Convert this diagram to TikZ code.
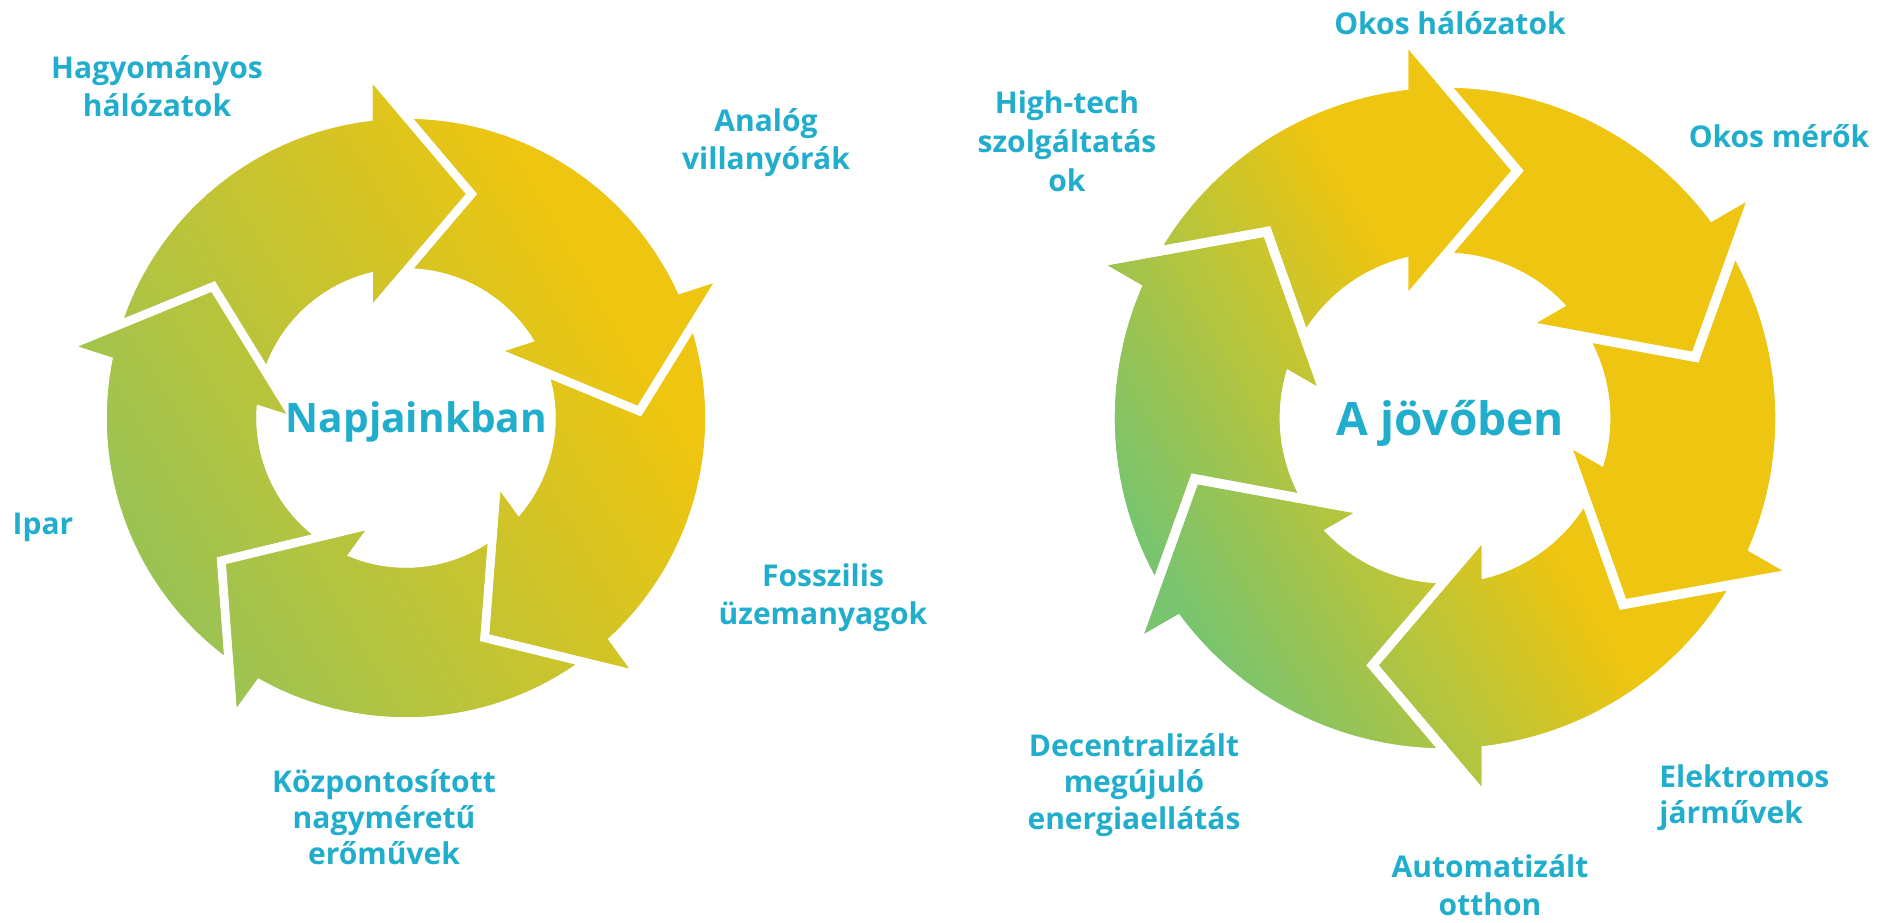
\documentclass[tikz,border=0pt]{standalone}
\usepackage{fontspec}
\setmainfont{Open Sans}
\definecolor{labc}{RGB}{33,174,204}
\definecolor{ycol}{RGB}{238,197,16}
\definecolor{gcolA}{RGB}{155,195,83}
\definecolor{gcolB}{RGB}{120,196,111}
% #1 tip angle, #2 angular span, #3 scale
\newcommand\segpath[3]{({#1+#2+13.3}:{299*#3}) arc[start angle={#1+#2+13.3}, end angle={#1+21.22}, radius={299*#3}] -- ({#1+20.54}:{335*#3}) -- (#1:{231.8*#3}) -- ({#1+30.81}:{120*#3}) -- ({#1+27.57}:{150*#3}) arc[start angle={#1+27.57}, end angle={#1+#2+11.7}, radius={150*#3}] -- ({#1+#2-2.84}:{235.15*#3}) -- cycle}
\tikzset{
  labbase/.style={text=labc, font=\bfseries\fontsize{15}{18.75}\selectfont, inner sep=0pt},
  lab/.style={labbase, align=center, anchor=base},
  bigl/.style={text=labc, inner sep=0pt, anchor=base},
}
\begin{document}
\begin{tikzpicture}[x=0.5pt,y=0.5pt]
\useasboundingbox (0,0) rectangle (1890,-922);
\fill[white] (0,0) rectangle (1890,-922);
% left cycle
\begin{scope}[shift={(406,-418)}]
  \clip \foreach \t in {75.13,3.13,-68.87,-140.87,-212.87} { \segpath{\t}{72}{1} };
  \begin{scope}[rotate=30]
    \foreach \i in {0,...,89} {
      \pgfmathsetmacro\u{-345+\i*7.6667}
      \pgfmathtruncatemacro\p{max(0,min(100,(\u+299)/5.2))}
      \fill[ycol!\p!gcolA] (\u,-350) rectangle ({\u+15.4},350);
    }
  \end{scope}
\end{scope}
% right cycle
\begin{scope}[shift={(1445,-418)}]
  \clip \foreach \t in {75.1,15.1,-44.9,-104.9,-164.9,-224.9} { \segpath{\t}{60}{1.104} };
  \begin{scope}[rotate=30]
    \foreach \i in {0,...,89} {
      \pgfmathsetmacro\u{-380+\i*8.4444}
      \pgfmathtruncatemacro\p{max(0,min(100,(\u+330)/3.53))}
      \fill[ycol!\p!gcolB] (\u,-385) rectangle ({\u+17},385);
    }
  \end{scope}
\end{scope}
% labels (multi-line nodes: base = baseline of last line)
\node[bigl, font=\bfseries\fontsize{20.3}{24}\selectfont] (nap) at (416.5,-432.5) {Napjainkban};
\node[bigl, font=\bfseries\fontsize{23}{27}\selectfont] (jov) at (1450.5,-435) {A jövőben};
\node[lab] (hag) at (157,-116) {Hagyományos\\hálózatok};
\node[lab] (ana) at (766,-169) {Analóg\\villanyórák};
\node[lab] (fos) at (823,-624) {Fosszilis\\üzemanyagok};
\node[lab, font=\bfseries\fontsize{15}{18}\selectfont] (koz) at (384,-864) {Központosított\\nagyméretű\\erőművek};
\node[lab] (ipa) at (43,-534) {Ipar};
\node[lab] (okh) at (1450,-34) {Okos hálózatok};
\node[lab] (okm) at (1779,-147) {Okos mérők};
\node[labbase, anchor=base west, font=\bfseries\fontsize{15}{18}\selectfont] (ele) at (1659,-823) {\begin{tabular}[b]{@{}l@{}}Elektromos\\járművek\end{tabular}};
\node[lab] (aut) at (1490,-915) {Automatizált\\otthon};
\node[lab, font=\bfseries\fontsize{15}{18.25}\selectfont] (dec) at (1134,-829) {Decentralizált\\megújuló\\energiaellátás};
\node[lab, font=\bfseries\fontsize{15}{19.5}\selectfont] (hig) at (1067,-191) {High-tech\\szolgáltatás\\ok};
\end{tikzpicture}
\end{document}
